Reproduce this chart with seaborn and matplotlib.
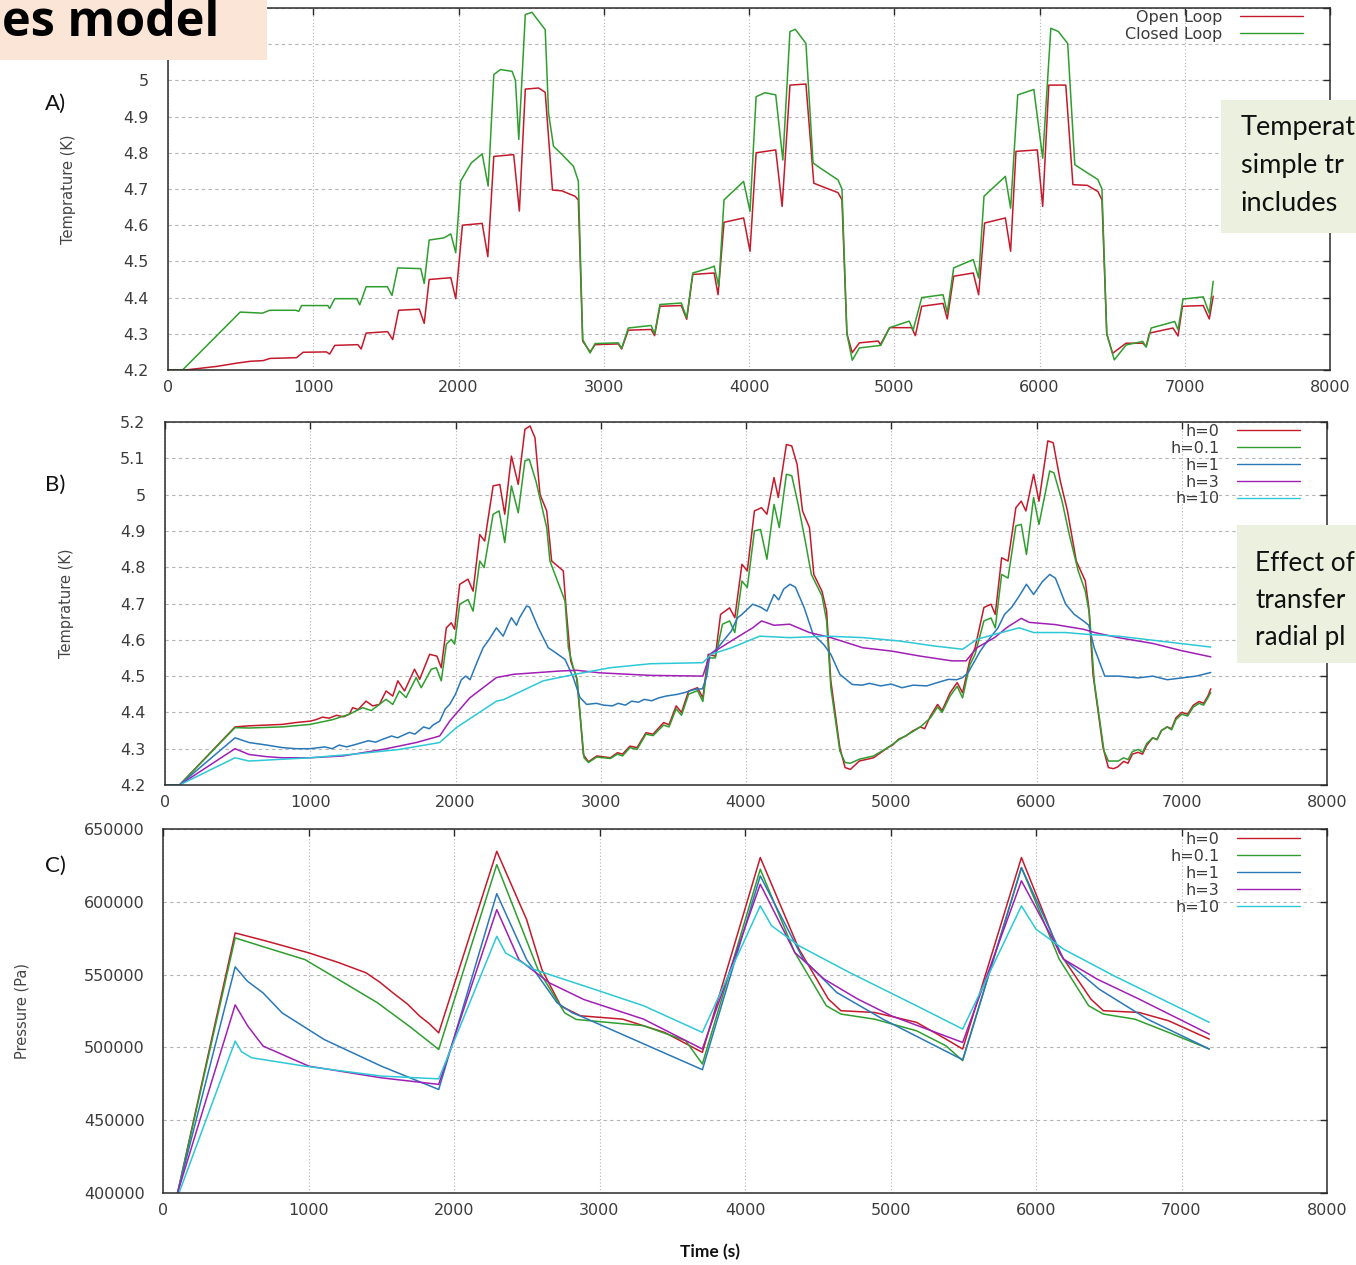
import matplotlib
matplotlib.use("Agg")
import matplotlib.pyplot as plt
from matplotlib.patches import Rectangle
from matplotlib.lines import Line2D
import seaborn as sns

# ---------------------------------------------------------------------------
# Panel A: magnet temperature, open vs closed loop control  (time s, T K)
# ---------------------------------------------------------------------------
A_OPEN = [
    (0, 4.20), (120, 4.20), (337, 4.21), (474, 4.219), (565, 4.224), (656, 4.226),
    (702, 4.232), (885, 4.234), (930, 4.249), (1090, 4.25), (1113, 4.244),
    (1148, 4.268), (1307, 4.27), (1330, 4.258), (1364, 4.302), (1512, 4.306),
    (1547, 4.284), (1588, 4.365), (1730, 4.368), (1764, 4.329), (1798, 4.45),
    (1947, 4.455), (1981, 4.397), (2027, 4.60), (2163, 4.605), (2202, 4.513),
    (2243, 4.79), (2380, 4.795), (2419, 4.639), (2460, 4.976), (2552, 4.979),
    (2597, 4.967), (2647, 4.697), (2711, 4.695), (2802, 4.68), (2825, 4.67),
    (2855, 4.28), (2906, 4.25), (2940, 4.27), (3100, 4.272), (3123, 4.258),
    (3169, 4.31), (3326, 4.312), (3350, 4.295), (3387, 4.376), (3534, 4.378),
    (3571, 4.34), (3613, 4.464), (3760, 4.468), (3787, 4.408), (3828, 4.608),
    (3963, 4.62), (4007, 4.528), (4049, 4.80), (4184, 4.808), (4228, 4.652),
    (4282, 4.987), (4392, 4.99), (4446, 4.716), (4515, 4.705), (4613, 4.69),
    (4640, 4.67), (4674, 4.30), (4711, 4.248), (4760, 4.275), (4890, 4.28),
    (4905, 4.27), (4968, 4.317), (5120, 4.317), (5145, 4.295), (5189, 4.376),
    (5336, 4.384), (5365, 4.341), (5409, 4.459), (5544, 4.468), (5581, 4.408),
    (5622, 4.606), (5765, 4.62), (5801, 4.528), (5838, 4.804), (5985, 4.808),
    (6022, 4.652), (6064, 4.987), (6181, 4.987), (6230, 4.712), (6330, 4.71),
    (6402, 4.693), (6430, 4.67), (6463, 4.30), (6503, 4.246), (6596, 4.274),
    (6711, 4.274), (6734, 4.265), (6757, 4.302), (6919, 4.316), (6954, 4.294),
    (6984, 4.376), (7127, 4.378), (7169, 4.341), (7196, 4.404),
]
A_CLOSED = [
    (0, 4.20), (100, 4.20), (497, 4.36), (650, 4.357), (700, 4.365), (880, 4.365),
    (900, 4.362), (920, 4.378), (1100, 4.378), (1113, 4.37), (1148, 4.397),
    (1300, 4.397), (1320, 4.38), (1364, 4.43), (1510, 4.43), (1542, 4.406),
    (1581, 4.482), (1740, 4.48), (1764, 4.439), (1798, 4.559), (1900, 4.565),
    (1947, 4.576), (1981, 4.524), (2015, 4.722), (2088, 4.772), (2163, 4.797),
    (2204, 4.708), (2243, 5.016), (2289, 5.03), (2369, 5.025), (2392, 5.0),
    (2415, 4.837), (2460, 5.182), (2506, 5.188), (2597, 5.14), (2620, 4.91),
    (2654, 4.818), (2711, 4.796), (2791, 4.763), (2825, 4.722), (2855, 4.284),
    (2906, 4.247), (2940, 4.273), (3100, 4.275), (3123, 4.26), (3169, 4.316),
    (3326, 4.323), (3350, 4.30), (3387, 4.381), (3534, 4.385), (3571, 4.344),
    (3613, 4.468), (3730, 4.482), (3760, 4.487), (3792, 4.431), (3828, 4.67),
    (3902, 4.698), (3963, 4.721), (4007, 4.638), (4049, 4.955), (4110, 4.966),
    (4184, 4.96), (4233, 4.78), (4282, 5.135), (4319, 5.141), (4392, 5.102),
    (4441, 4.772), (4490, 4.758), (4613, 4.725), (4640, 4.70), (4674, 4.30),
    (4711, 4.227), (4760, 4.261), (4907, 4.268), (4968, 4.317), (5103, 4.335),
    (5130, 4.31), (5189, 4.40), (5336, 4.408), (5365, 4.358), (5409, 4.482),
    (5544, 4.505), (5581, 4.454), (5618, 4.68), (5765, 4.735), (5801, 4.647),
    (5850, 4.96), (5961, 4.975), (6022, 4.785), (6078, 5.144), (6130, 5.135),
    (6194, 5.102), (6243, 4.767), (6402, 4.726), (6430, 4.70), (6463, 4.30),
    (6515, 4.228), (6596, 4.269), (6711, 4.279), (6734, 4.263), (6769, 4.316),
    (6931, 4.334), (6954, 4.311), (6988, 4.396), (7127, 4.402), (7169, 4.357),
    (7196, 4.445),
]
A_LABELS = ["Open Loop", "Closed Loop"]

# ---------------------------------------------------------------------------
# Panel B: temperature for several radial heat-transfer coefficients h
# ---------------------------------------------------------------------------
B_H0 = [
    (0, 4.20), (100, 4.20), (482, 4.36), (579, 4.363), (700, 4.365), (809, 4.367),
    (900, 4.372), (1000, 4.376), (1040, 4.38), (1085, 4.387), (1130, 4.384),
    (1180, 4.392), (1230, 4.388), (1269, 4.395), (1292, 4.413), (1330, 4.408),
    (1384, 4.431), (1430, 4.418), (1476, 4.422), (1522, 4.459), (1568, 4.445),
    (1603, 4.487), (1649, 4.459), (1718, 4.519), (1753, 4.491), (1822, 4.56),
    (1872, 4.555), (1902, 4.523), (1937, 4.633), (1971, 4.647), (1994, 4.629),
    (2029, 4.753), (2086, 4.767), (2121, 4.734), (2167, 4.89), (2201, 4.872),
    (2259, 5.024), (2305, 5.028), (2339, 4.946), (2385, 5.106), (2432, 5.028),
    (2478, 5.18), (2513, 5.189), (2547, 5.157), (2582, 5.0), (2628, 4.955),
    (2662, 4.817), (2742, 4.79), (2761, 4.689), (2793, 4.542), (2834, 4.496),
    (2857, 4.395), (2880, 4.284), (2915, 4.264), (2973, 4.28), (3066, 4.275),
    (3115, 4.289), (3150, 4.285), (3201, 4.307), (3250, 4.303), (3311, 4.344),
    (3360, 4.34), (3433, 4.372), (3470, 4.366), (3519, 4.418), (3556, 4.40),
    (3605, 4.459), (3666, 4.468), (3703, 4.44), (3740, 4.56), (3789, 4.555),
    (3825, 4.67), (3887, 4.688), (3923, 4.661), (3972, 4.808), (4009, 4.79),
    (4058, 4.955), (4107, 4.964), (4144, 4.946), (4193, 5.047), (4222, 4.992),
    (4278, 5.138), (4315, 5.134), (4352, 5.083), (4389, 4.955), (4437, 4.909),
    (4467, 4.78), (4523, 4.734), (4555, 4.679), (4584, 4.487), (4646, 4.303),
    (4682, 4.248), (4719, 4.243), (4780, 4.266), (4878, 4.275), (4976, 4.303),
    (5010, 4.31), (5050, 4.326), (5100, 4.335), (5148, 4.349), (5200, 4.36),
    (5230, 4.355), (5270, 4.39), (5319, 4.422), (5350, 4.405), (5405, 4.454),
    (5454, 4.482), (5491, 4.454), (5540, 4.542), (5577, 4.578), (5638, 4.689),
    (5687, 4.698), (5716, 4.67), (5760, 4.826), (5804, 4.817), (5858, 4.964),
    (5895, 4.982), (5927, 4.955), (5980, 5.056), (6017, 4.982), (6078, 5.148),
    (6115, 5.143), (6164, 5.037), (6213, 4.955), (6274, 4.817), (6336, 4.762),
    (6360, 4.689), (6389, 4.505), (6458, 4.303), (6495, 4.248), (6530, 4.245),
    (6560, 4.25), (6600, 4.265), (6630, 4.26), (6660, 4.285), (6700, 4.29),
    (6730, 4.285), (6760, 4.31), (6800, 4.33), (6830, 4.325), (6860, 4.35),
    (6900, 4.36), (6930, 4.355), (6960, 4.385), (7000, 4.40), (7040, 4.395),
    (7080, 4.42), (7120, 4.43), (7150, 4.425), (7180, 4.445), (7200, 4.465),
]
B_H01 = [
    (0, 4.20), (100, 4.20), (482, 4.358), (579, 4.357), (809, 4.36), (1000, 4.367),
    (1154, 4.38), (1269, 4.395), (1361, 4.413), (1420, 4.405), (1476, 4.422),
    (1522, 4.436), (1568, 4.422), (1614, 4.459), (1660, 4.441), (1729, 4.496),
    (1764, 4.468), (1833, 4.519), (1868, 4.523), (1902, 4.487), (1937, 4.588),
    (1971, 4.601), (1994, 4.588), (2029, 4.698), (2086, 4.711), (2121, 4.679),
    (2167, 4.817), (2197, 4.799), (2259, 4.946), (2300, 4.955), (2339, 4.868),
    (2385, 5.024), (2432, 4.95), (2478, 5.093), (2508, 5.097), (2554, 5.037),
    (2628, 4.909), (2650, 4.817), (2719, 4.744), (2754, 4.707), (2777, 4.578),
    (2811, 4.523), (2839, 4.487), (2862, 4.376), (2885, 4.275), (2915, 4.262),
    (2973, 4.277), (3066, 4.273), (3115, 4.285), (3150, 4.28), (3201, 4.303),
    (3250, 4.298), (3311, 4.34), (3360, 4.336), (3433, 4.365), (3470, 4.36),
    (3519, 4.41), (3556, 4.392), (3605, 4.45), (3666, 4.46), (3703, 4.43),
    (3740, 4.55), (3789, 4.55), (3838, 4.643), (3887, 4.652), (3923, 4.62),
    (3972, 4.762), (4009, 4.744), (4058, 4.90), (4100, 4.904), (4144, 4.822),
    (4193, 4.973), (4229, 4.909), (4278, 5.056), (4315, 5.052), (4359, 4.973),
    (4408, 4.872), (4450, 4.78), (4523, 4.721), (4555, 4.652), (4584, 4.468),
    (4646, 4.294), (4682, 4.262), (4719, 4.26), (4780, 4.271), (4878, 4.28),
    (4976, 4.303), (5050, 4.324), (5148, 4.347), (5200, 4.36), (5270, 4.385),
    (5319, 4.415), (5350, 4.40), (5405, 4.445), (5454, 4.472), (5491, 4.44),
    (5540, 4.53), (5577, 4.56), (5638, 4.652), (5687, 4.66), (5716, 4.633),
    (5760, 4.78), (5804, 4.77), (5858, 4.914), (5895, 4.918), (5931, 4.835),
    (5980, 4.992), (6017, 4.918), (6091, 5.065), (6120, 5.06), (6176, 4.982),
    (6225, 4.891), (6287, 4.79), (6336, 4.734), (6365, 4.67), (6397, 4.487),
    (6465, 4.294), (6495, 4.266), (6563, 4.266), (6600, 4.275), (6630, 4.27),
    (6660, 4.292), (6700, 4.298), (6730, 4.29), (6760, 4.315), (6800, 4.33),
    (6830, 4.325), (6860, 4.35), (6900, 4.36), (6930, 4.352), (6960, 4.38),
    (7000, 4.395), (7040, 4.39), (7080, 4.415), (7120, 4.425), (7150, 4.42),
    (7180, 4.44), (7200, 4.455),
]
B_H1 = [
    (0, 4.20), (100, 4.20), (482, 4.33), (579, 4.317), (700, 4.31), (809, 4.303),
    (900, 4.30), (1000, 4.30), (1100, 4.305), (1150, 4.30), (1200, 4.31),
    (1250, 4.305), (1315, 4.312), (1400, 4.322), (1450, 4.318), (1499, 4.326),
    (1560, 4.335), (1600, 4.33), (1683, 4.345), (1720, 4.34), (1780, 4.36),
    (1820, 4.355), (1845, 4.365), (1891, 4.376), (1930, 4.41), (1960, 4.422),
    (2000, 4.45), (2040, 4.49), (2070, 4.50), (2100, 4.49), (2150, 4.54),
    (2190, 4.578), (2230, 4.60), (2282, 4.633), (2328, 4.61), (2360, 4.64),
    (2385, 4.661), (2420, 4.64), (2440, 4.66), (2489, 4.693), (2510, 4.69),
    (2570, 4.633), (2639, 4.578), (2673, 4.569), (2754, 4.546), (2811, 4.496),
    (2857, 4.441), (2903, 4.422), (2970, 4.425), (3020, 4.42), (3080, 4.418),
    (3120, 4.425), (3170, 4.42), (3213, 4.431), (3260, 4.428), (3300, 4.436),
    (3350, 4.432), (3400, 4.44), (3450, 4.445), (3531, 4.45), (3580, 4.455),
    (3620, 4.46), (3654, 4.464), (3700, 4.465), (3730, 4.50), (3752, 4.56),
    (3800, 4.575), (3850, 4.60), (3899, 4.624), (3940, 4.66), (3972, 4.67),
    (4046, 4.698), (4100, 4.69), (4144, 4.679), (4193, 4.725), (4225, 4.71),
    (4260, 4.74), (4303, 4.753), (4340, 4.745), (4400, 4.689), (4462, 4.615),
    (4535, 4.587), (4584, 4.56), (4646, 4.505), (4731, 4.477), (4800, 4.475),
    (4850, 4.48), (4927, 4.473), (5000, 4.478), (5074, 4.468), (5150, 4.475),
    (5245, 4.473), (5300, 4.48), (5393, 4.491), (5450, 4.49), (5491, 4.496),
    (5530, 4.51), (5613, 4.569), (5650, 4.59), (5735, 4.633), (5780, 4.67),
    (5830, 4.69), (5880, 4.72), (5931, 4.753), (5980, 4.725), (6040, 4.76),
    (6091, 4.78), (6130, 4.77), (6201, 4.698), (6260, 4.67), (6323, 4.652),
    (6360, 4.64), (6397, 4.578), (6470, 4.50), (6563, 4.50), (6700, 4.495),
    (6800, 4.50), (6900, 4.49), (7000, 4.495), (7100, 4.50), (7200, 4.51),
]
B_H3 = [
    (0, 4.20), (100, 4.20), (482, 4.30), (579, 4.284), (700, 4.278), (809, 4.275),
    (1000, 4.275), (1223, 4.28), (1499, 4.298), (1730, 4.317), (1891, 4.335),
    (1960, 4.376), (2098, 4.44), (2282, 4.496), (2400, 4.505), (2719, 4.514),
    (2834, 4.516), (2995, 4.509), (3340, 4.502), (3703, 4.50), (3752, 4.56),
    (3899, 4.597), (4046, 4.633), (4107, 4.652), (4193, 4.64), (4300, 4.643),
    (4437, 4.62), (4584, 4.606), (4805, 4.578), (5001, 4.569), (5200, 4.555),
    (5417, 4.542), (5515, 4.542), (5589, 4.578), (5711, 4.606), (5800, 4.635),
    (5895, 4.659), (5950, 4.648), (6127, 4.642), (6323, 4.629), (6400, 4.62),
    (6563, 4.606), (6800, 4.59), (7000, 4.57), (7200, 4.553),
]
B_H10 = [
    (0, 4.20), (100, 4.20), (482, 4.275), (579, 4.266), (809, 4.271), (1000, 4.275),
    (1300, 4.285), (1614, 4.298), (1891, 4.317), (2006, 4.358), (2282, 4.431),
    (2330, 4.435), (2604, 4.487), (2823, 4.505), (3064, 4.523), (3340, 4.534),
    (3703, 4.537), (3760, 4.56), (3899, 4.578), (4095, 4.61), (4300, 4.606),
    (4560, 4.61), (4805, 4.606), (5050, 4.597), (5295, 4.583), (5491, 4.574),
    (5589, 4.601), (5711, 4.615), (5882, 4.633), (5980, 4.62), (6200, 4.62),
    (6348, 4.615), (6563, 4.61), (7200, 4.58),
]

# ---------------------------------------------------------------------------
# Panel C: helium pressure for the same h values  (time s, Pa)
# ---------------------------------------------------------------------------
C_H0 = [
    (100, 400000), (496, 578600), (700, 573300), (1003, 564900), (1200, 558500),
    (1396, 551200), (1490, 544800), (1580, 537500), (1680, 529800), (1764, 521500),
    (1830, 516300), (1895, 510000), (2294, 634700), (2499, 587800), (2604, 553500),
    (2735, 528300), (2870, 521700), (3159, 519400), (3447, 510300), (3707, 496600),
    (4105, 630400), (4371, 567500), (4573, 533200), (4659, 525200), (4890, 524000),
    (5179, 517200), (5381, 505700), (5496, 498900), (5900, 630400), (6160, 565200),
    (6377, 533200), (6463, 525200), (6708, 524000), (6911, 518300), (7191, 505700),
]
C_H01 = [
    (100, 400000), (496, 575200), (700, 568800), (976, 560300), (1200, 547000),
    (1475, 530600), (1700, 514000), (1895, 498600), (2294, 625500), (2577, 553500),
    (2761, 523700), (2840, 519200), (3303, 514900), (3592, 504600), (3707, 488600),
    (4105, 622400), (4342, 565200), (4559, 528600), (4659, 522900), (4890, 519400),
    (5179, 511400), (5381, 501100), (5496, 490900), (5900, 623500), (6160, 560600),
    (6362, 528600), (6463, 522900), (6679, 519400), (6911, 510300), (7191, 498900),
]
C_H1 = [
    (100, 400000), (496, 555300), (580, 545500), (688, 537400), (819, 523700),
    (1108, 505400), (1501, 487100), (1895, 471100), (2294, 605600), (2499, 560300),
    (2709, 530600), (2814, 523700), (2870, 521500), (3707, 484700), (4105, 617800),
    (4400, 560600), (4631, 537700), (4948, 519400), (5496, 491500), (5900, 623500),
    (6189, 560600), (6434, 540000), (6766, 519400), (7191, 498900),
]
C_H3 = [
    (100, 400000), (496, 529200), (583, 514600), (688, 500900), (1003, 487100),
    (1501, 479100), (1895, 474600), (2294, 594600), (2446, 560300), (2656, 544300),
    (2892, 532900), (3303, 519400), (3707, 498900), (4105, 612100), (4342, 565200),
    (4544, 546900), (4775, 533200), (5006, 521700), (5496, 503400), (5900, 614400),
    (6189, 560600), (6420, 546900), (6708, 533200), (7191, 509100),
]
C_H10 = [
    (110, 400000), (496, 504300), (540, 497000), (609, 492900), (976, 487100),
    (1501, 480300), (1895, 478400), (2294, 576300), (2354, 564900), (2551, 553500),
    (2971, 539700), (3303, 528600), (3707, 510300), (4105, 597200), (4183, 583500),
    (4371, 569800), (4717, 551500), (5179, 528600), (5496, 512600), (5900, 597200),
    (6000, 581200), (6189, 567500), (6535, 549200), (7191, 517200),
]
H_LABELS = ["h=0", "h=0.1", "h=1", "h=3", "h=10"]

X_TICKS = [0, 1000, 2000, 3000, 4000, 5000, 6000, 7000, 8000]
T_TICKS = [4.2, 4.3, 4.4, 4.5, 4.6, 4.7, 4.8, 4.9, 5.0, 5.1, 5.2]
P_TICKS = [400000, 450000, 500000, 550000, 600000, 650000]

RED, GREEN, BLUE, MAGENTA, CYAN = "#c41a2c", "#2f9e2f", "#2a78b8", "#a01fb4", "#2cc8d6"
H_COLORS = [RED, GREEN, BLUE, MAGENTA, CYAN]

# ---------------------------------------------------------------------------
sns.set_style("white")
plt.rcParams["font.family"] = ["DejaVu Sans"]
plt.rcParams["axes.unicode_minus"] = False

W, H = 1356, 1265
fig = plt.figure(figsize=(W / 100, H / 100), dpi=100)
fig.patch.set_facecolor("white")


def add_axes_px(left, top, right, bottom):
    return fig.add_axes([left / W, 1 - bottom / H, (right - left) / W, (bottom - top) / H])


def style_axes(ax, yticks, ylabels, ylim, ypad):
    ax.set_xlim(0, 8000)
    ax.set_ylim(*ylim)
    ax.set_xticks(X_TICKS)
    ax.set_xticklabels([f"{x:d}" for x in X_TICKS])
    ax.set_yticks(yticks)
    ax.set_yticklabels(ylabels)
    for s in ax.spines.values():
        s.set_visible(True)
        s.set_color("#2b2b2b")
        s.set_linewidth(1.1)
    ax.tick_params(direction="in", length=5, width=1.0, color="#2b2b2b",
                   top=True, right=True, labelsize=11.5, labelcolor="#3c3c3c")
    ax.tick_params(axis="x", pad=7)
    ax.tick_params(axis="y", pad=ypad)
    ax.yaxis.grid(True, color="#b4b4b4", lw=0.8, ls=(0, (3, 3)))
    ax.xaxis.grid(True, color="#b4b4b4", lw=0.8, ls=(0, (1, 2)))
    ax.set_axisbelow(True)
    ax.set_xlabel("")


def draw_series(ax, series, colors):
    for pts, c in zip(series, colors):
        t, v = zip(*pts)
        sns.lineplot(x=list(t), y=list(v), ax=ax, color=c, linewidth=1.1,
                     estimator=None, sort=False, legend=False)


def gnuplot_legend(ax, colors, labels, anchor):
    handles = [Line2D([], [], color=c, lw=1.0) for c in colors]
    leg = ax.legend(handles, labels, loc="upper right", bbox_to_anchor=anchor,
                    markerfirst=False, frameon=False, handlelength=3.95,
                    handletextpad=1.1, labelspacing=0.12, borderpad=0,
                    borderaxespad=0, fontsize=11.5)
    for txt in leg.get_texts():
        txt.set_color("#3c3c3c")


axA = add_axes_px(168, 8, 1330, 370)
axB = add_axes_px(165, 422, 1327, 785)
axC = add_axes_px(163, 829, 1327, 1193)

t_labels = [f"{y:g}" for y in T_TICKS]
# the two highest labels of the top panel sit under the slide banner
t_labels_top = t_labels[:-2] + ["", ""]

# Panel A
draw_series(axA, [A_OPEN, A_CLOSED], [RED, GREEN])
style_axes(axA, T_TICKS, t_labels_top, (4.2, 5.2), 14)
gnuplot_legend(axA, [RED, GREEN], A_LABELS, (0.977, 0.995))
axA.set_ylabel("Temprature (K)", fontsize=10.5, color="#444444", va="center",
               family=["Liberation Sans Narrow", "DejaVu Sans"])
axA.yaxis.set_label_coords((68 - 168) / 1162, 0.5)

# Panel B
draw_series(axB, [B_H0, B_H01, B_H1, B_H3, B_H10], H_COLORS)
style_axes(axB, T_TICKS, t_labels, (4.2, 5.2), 14)
gnuplot_legend(axB, H_COLORS, H_LABELS, (0.9768, 0.995))
axB.set_ylabel("Temprature (K)", fontsize=10.5, color="#444444", va="center",
               family=["Liberation Sans Narrow", "DejaVu Sans"])
axB.yaxis.set_label_coords((66 - 165) / 1162, 0.5)

# Panel C
draw_series(axC, [C_H0, C_H01, C_H1, C_H3, C_H10], H_COLORS)
style_axes(axC, P_TICKS, [f"{p:d}" for p in P_TICKS], (400000, 650000), 13)
gnuplot_legend(axC, H_COLORS, H_LABELS, (0.9768, 0.992))
axC.set_ylabel("Pressure (Pa)", fontsize=10.5, color="#444444", va="center",
               family=["Liberation Sans Narrow", "DejaVu Sans"])
axC.yaxis.set_label_coords((22 - 163) / 1164, 0.5)
axC.set_xlabel("Time (s)", fontsize=12.5, fontweight="bold", color="#111111",
               va="center", family=["Lato", "DejaVu Sans"])
axC.xaxis.set_label_coords((710 - 163) / 1164, (1193 - 1252) / 364)

# Panel letters
for letter, y in [("A)", 104), ("B)", 485), ("C)", 866)]:
    fig.text(45 / W, 1 - y / H, letter, fontsize=16, va="center", ha="left",
             family=["Lato", "DejaVu Sans"], color="#111111")


def fig_box(x0, y0, x1, y1, color):
    fig.add_artist(Rectangle((x0 / W, 1 - y1 / H), (x1 - x0) / W, (y1 - y0) / H,
                             transform=fig.transFigure, facecolor=color,
                             edgecolor="none", zorder=10))


# Slide title banner
fig_box(0, 0, 267, 60, "#fbe5d6")
fig.text(2 / W, 1 - 36 / H, "es model", fontsize=35, fontweight="bold",
         va="baseline", ha="left", family=["Open Sans", "DejaVu Sans"], color="black",
         zorder=11)

# Side notes
fig_box(1221, 100, 1356, 233, "#ebf0df")
for txt, yb in [("Temperat", 135), ("simple tr", 173), ("includes", 211)]:
    fig.text(1241 / W, 1 - yb / H, txt, fontsize=19.5, va="baseline", ha="left",
             family=["Lato", "DejaVu Sans"], color="#111111", zorder=11)

fig_box(1237, 525, 1356, 663, "#ebf0df")
for txt, yb in [("Effect of", 571), ("transfer", 608), ("radial pl", 645)]:
    fig.text(1255 / W, 1 - yb / H, txt, fontsize=18.8, va="baseline", ha="left",
             family=["Lato", "DejaVu Sans"], color="#111111", zorder=11)

fig.savefig("out.png", dpi=100)
